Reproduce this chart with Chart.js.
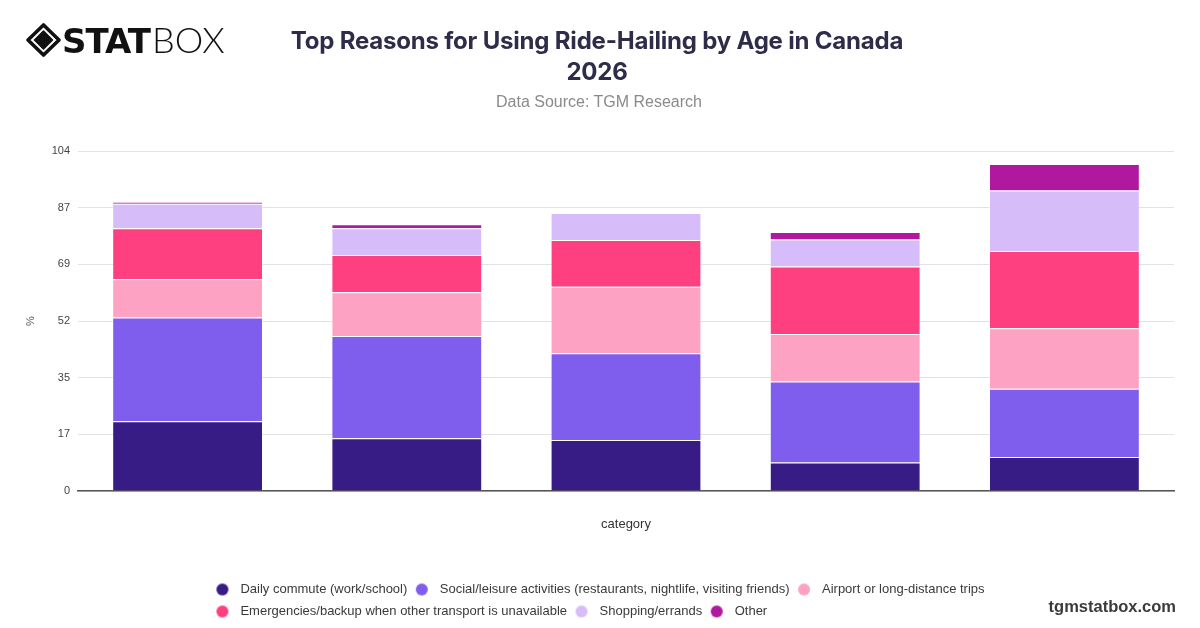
<!DOCTYPE html>
<html>
<head>
<meta charset="utf-8">
<script src="https://cdn.jsdelivr.net/npm/chart.js@4.4.1/dist/chart.umd.min.js"></script>
<style>
  html, body { margin: 0; padding: 0; background: #ffffff; }
  #wrap { position: relative; width: 1200px; height: 628px; overflow: hidden; }
  #c { position: absolute; left: 0; top: 0; }
  .ov { position: absolute; white-space: nowrap; }
  #title { left: 0; width: 1194px; top: 25px; text-align: center; font-family: Inter, "Open Sans", sans-serif; font-weight: 700; font-size: 24px; line-height: 31px; color: #2e2c48; letter-spacing: -0.2px; }
  #sub { left: 0; width: 1198px; top: 93px; text-align: center; font-family: "Liberation Sans", Arial, sans-serif; font-size: 16px; color: #8a8a8a; }
  #logo { left: 25px; top: 20px; }
  #wm { right: 24px; top: 597px; font-family: "Liberation Sans", Arial, sans-serif; font-weight: 700; font-size: 16.5px; color: #3a3a3a; }
</style>
</head>
<body>
<div id="wrap">
  <canvas id="c" width="1200" height="628"></canvas>
  <svg id="logo" class="ov" width="215" height="42" viewBox="0 0 215 42">
    <path d="M18.5 5 L34 20 L18.5 35 L3 20 Z" fill="none" stroke="#111" stroke-width="3.6" stroke-linejoin="round"/>
    <path d="M18.5 11 L27.5 20 L18.5 29 L9.5 20 Z" fill="#111" stroke="#111" stroke-width="1.5" stroke-linejoin="round"/>
    <text x="37" y="33" font-family="DejaVu Sans, sans-serif" font-weight="900" font-size="34" letter-spacing="-1" fill="#111">STAT</text>
    <text x="127" y="33" font-family="Lato, 'Liberation Sans', sans-serif" font-weight="300" font-size="36" fill="#111">BOX</text>
  </svg>
  <div id="title" class="ov">Top Reasons for Using Ride-Hailing by Age in Canada<br>2026</div>
  <div id="sub" class="ov">Data Source: TGM Research</div>
  <div id="wm" class="ov">tgmstatbox.com</div>
</div>
<script>
// ---- data ----
const categories = ['Group 1', 'Group 2', 'Group 3', 'Group 4', 'Group 5'];
const seriesNames = [
  'Daily commute (work/school)',
  'Social/leisure activities (restaurants, nightlife, visiting friends)',
  'Airport or long-distance trips',
  'Emergencies/backup when other transport is unavailable',
  'Shopping/errands',
  'Other'
];
const dailyCommute = [21.3, 16.1, 15.6, 8.7, 10.4];
const socialLeisure = [31.8, 31.3, 26.5, 24.8, 20.9];
const airportTrips = [11.7, 13.4, 20.4, 14.5, 18.5];
const emergencies = [15.6, 11.4, 14.3, 20.7, 23.6];
const shopping = [7.5, 8.2, 8.2, 8.2, 18.5];
const other = [0.6, 1.2, 0, 2.3, 8.1];
const yTickLabels = ['0', '17', '35', '52', '69', '87', '104'];
const Y_MAX = 104;
const seriesColors = ['#381c85', '#7f5eed', '#fda2c3', '#fe4081', '#d6bdfa', '#b0189f'];

const seriesValues = [dailyCommute, socialLeisure, airportTrips, emergencies, shopping, other];
const LEGEND_WRAP = 1000;

// legend marker: circle placed toward the left of a wider image
function legendDot(color) {
  const cv = document.createElement('canvas');
  cv.width = 26; cv.height = 14;
  const ctx = cv.getContext('2d');
  ctx.fillStyle = color;
  ctx.beginPath();
  ctx.arc(10, 7, 6, 0, Math.PI * 2);
  ctx.fill();
  return cv;
}

const legendTweaks = {
  id: 'legendTweaks',
  beforeUpdate(chart) {
    const lg = chart.legend;
    if (lg && !lg._wrapPatched) {
      const orig = lg._fitRows;
      lg._fitRows = function (...a) {
        const mw = this.maxWidth;
        this.maxWidth = Math.min(mw, LEGEND_WRAP);
        const r = orig.apply(this, a);
        this.maxWidth = mw;
        return r;
      };
      lg._wrapPatched = true;
    }
  },
  beforeDraw(chart) {
    const lg = chart.legend;
    if (lg && lg.lineWidths && lg.lineWidths.length) {
      const m = Math.max(...lg.lineWidths) - 7.5;
      lg.lineWidths = lg.lineWidths.map(() => m);
    }
  }
};

new Chart(document.getElementById('c'), {
  type: 'bar',
  data: {
    labels: categories,
    datasets: seriesNames.map((name, i) => ({
      label: name,
      data: seriesValues[i],
      backgroundColor: seriesColors[i],
      borderColor: 'rgba(255,255,255,0.35)',
      borderWidth: 1,
      pointStyle: legendDot(seriesColors[i]),
      categoryPercentage: 0.86,
      barPercentage: 0.8
    }))
  },
  options: {
    responsive: false,
    animation: false,
    devicePixelRatio: 1,
    layout: { padding: { left: 20, right: 26, top: 151, bottom: 0 } },
    plugins: {
      title: { display: false },
      tooltip: { enabled: false },
      legend: {
        position: 'bottom',
        labels: {
          usePointStyle: true,
          pointStyleWidth: 17,
          boxHeight: 12,
          padding: 9,
          color: '#3a3a3a',
          font: { family: '"Liberation Sans", Arial, sans-serif', size: 13 }
        }
      }
    },
    scales: {
      x: {
        stacked: true,
        grid: { display: false, drawTicks: false },
        border: { display: true, color: '#555', width: 1.5 },
        ticks: { display: false },
        title: {
          display: true,
          text: 'category',
          color: '#333',
          font: { family: '"Liberation Sans", Arial, sans-serif', size: 13 },
          padding: { top: 4, bottom: 42 }
        },
        afterFit(axis) { axis.height = 83; }
      },
      y: {
        stacked: true,
        min: 0,
        max: Y_MAX,
        grid: { color: '#e2e2e2', lineWidth: 1, drawTicks: false },
        border: { display: false },
        afterBuildTicks(axis) {
          axis.ticks = yTickLabels.map((_, i) => ({ value: i * Y_MAX / (yTickLabels.length - 1) }));
        },
        ticks: {
          padding: 8,
          color: '#444',
          font: { family: '"Liberation Sans", Arial, sans-serif', size: 11 },
          callback: (v, i) => yTickLabels[i]
        },
        title: {
          display: true,
          text: '%',
          color: '#555',
          font: { family: '"Liberation Sans", Arial, sans-serif', size: 11 }
        },
        afterFit(axis) { axis.width = 58; }
      }
    }
  },
  plugins: [legendTweaks]
});
</script>
</body>
</html>
